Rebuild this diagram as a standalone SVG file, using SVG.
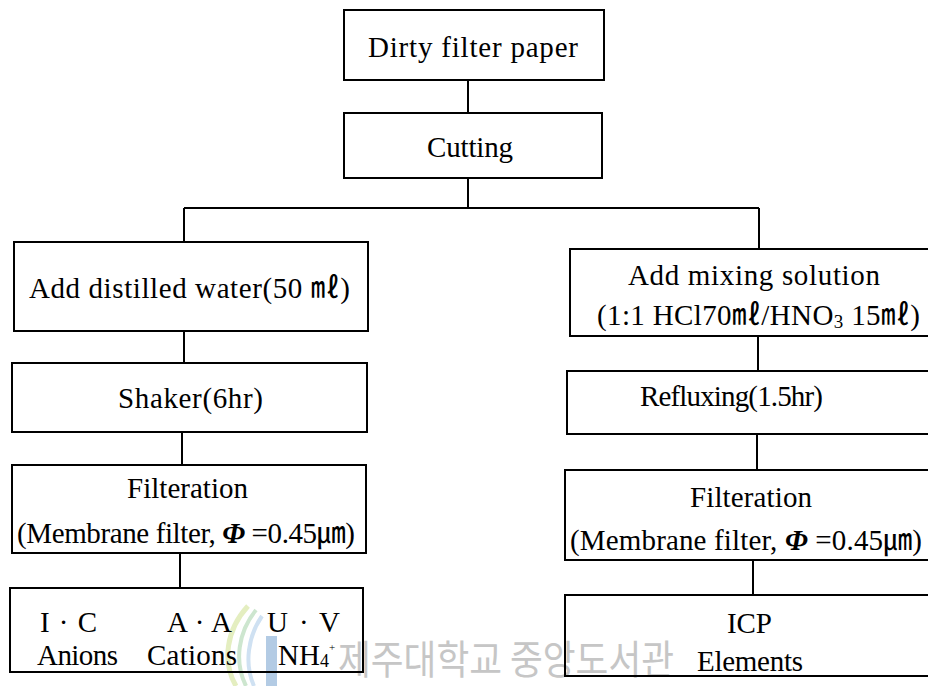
<svg xmlns="http://www.w3.org/2000/svg" width="928" height="686" viewBox="0 0 928 686">
<style>
  .box { fill: none; stroke: #000000; stroke-width: 2; }
  .ln { fill: none; stroke: #000000; stroke-width: 2; }
  .t { font-family: "Liberation Serif", "Noto Sans CJK KR", serif; font-size: 29px; fill: #000000; }
  .wm { font-family: "Noto Sans CJK KR", sans-serif; font-size: 40px; fill: #c6c6c6; }
</style>
<rect x="0" y="0" width="928" height="686" fill="#ffffff"/>

<g id="watermark">
  <path d="M236,686 C222,662 226,630 248,606" fill="none" stroke="#e4eec0" stroke-width="5"/>
  <path d="M246,686 C234,662 238,632 256,610" fill="none" stroke="#cde6cf" stroke-width="4"/>
  <path d="M254,686 C244,664 248,636 262,616" fill="none" stroke="#cfe1f2" stroke-width="4"/>
  <rect x="266" y="636" width="11" height="50" fill="#b3cbe4"/>
  <text class="wm" x="338" y="674" textLength="336" lengthAdjust="spacingAndGlyphs">제주대학교 중앙도서관</text>
</g>

<g id="connectors">
  <line class="ln" x1="468" y1="80" x2="468" y2="113"/>
  <line class="ln" x1="468" y1="178" x2="468" y2="208"/>
  <line class="ln" x1="184" y1="208" x2="759" y2="208"/>
  <line class="ln" x1="184" y1="208" x2="184" y2="242"/>
  <line class="ln" x1="759" y1="208" x2="759" y2="249"/>
  <line class="ln" x1="184" y1="331" x2="184" y2="363"/>
  <line class="ln" x1="182" y1="432" x2="182" y2="465"/>
  <line class="ln" x1="180" y1="553" x2="180" y2="588"/>
  <line class="ln" x1="758" y1="336" x2="758" y2="371"/>
  <line class="ln" x1="757" y1="434" x2="757" y2="470"/>
  <line class="ln" x1="753" y1="560" x2="753" y2="595"/>
</g>

<g id="dirty">
  <rect class="box" x="344" y="10" width="260" height="70"/>
  <text class="t" x="368" y="57" textLength="210" lengthAdjust="spacing">Dirty filter paper</text>
</g>
<g id="cutting">
  <rect class="box" x="344" y="113" width="258" height="65"/>
  <text class="t" x="427" y="157" textLength="86" lengthAdjust="spacing">Cutting</text>
</g>

<g id="water">
  <rect class="box" x="14" y="242" width="354" height="89"/>
  <text class="t" x="29" y="298" textLength="321" lengthAdjust="spacing">Add distilled water(50 ㎖)</text>
</g>
<g id="shaker">
  <rect class="box" x="12" y="363" width="355" height="69"/>
  <text class="t" x="118" y="408" textLength="145" lengthAdjust="spacing">Shaker(6hr)</text>
</g>
<g id="filtL">
  <rect class="box" x="12" y="465" width="354" height="88"/>
  <text class="t" x="127" y="498" textLength="121" lengthAdjust="spacing">Filteration</text>
  <text class="t" x="17" y="543" textLength="338" lengthAdjust="spacing">(Membrane filter, <tspan font-style="italic" font-weight="bold">Φ</tspan> =0.45㎛)</text>
</g>
<g id="analysisL">
  <rect class="box" x="10" y="588" width="353" height="84"/>
  <text class="t" x="40" y="632" textLength="57" lengthAdjust="spacing">I · C</text>
  <text class="t" x="167" y="632" textLength="65" lengthAdjust="spacing">A · A</text>
  <text class="t" x="267" y="632" textLength="73" lengthAdjust="spacing">U · V</text>
  <text class="t" x="37" y="665" textLength="81" lengthAdjust="spacing">Anions</text>
  <text class="t" x="147" y="665" textLength="90" lengthAdjust="spacing">Cations</text>
  <text class="t" x="278" y="665">NH<tspan font-size="18" dy="2">4</tspan><tspan font-size="11" dy="-16">+</tspan></text>
</g>

<g id="mixing">
  <rect class="box" x="570" y="249" width="365" height="87"/>
  <text class="t" x="628" y="285" textLength="252" lengthAdjust="spacing">Add mixing solution</text>
  <text class="t" x="597" y="325" textLength="323" lengthAdjust="spacing">(1:1 HCl70㎖/HNO<tspan font-size="19" dy="3">3</tspan><tspan dy="-3"> 15㎖)</tspan></text>
</g>
<g id="reflux">
  <rect class="box" x="567" y="371" width="368" height="63"/>
  <text class="t" x="640" y="406" textLength="183" lengthAdjust="spacing">Refluxing(1.5hr)</text>
</g>
<g id="filtR">
  <rect class="box" x="565" y="470" width="370" height="90"/>
  <text class="t" x="690" y="507" textLength="122" lengthAdjust="spacing">Filteration</text>
  <text class="t" x="570" y="550" textLength="352" lengthAdjust="spacing">(Membrane filter, <tspan font-style="italic" font-weight="bold">Φ</tspan> =0.45㎛)</text>
</g>
<g id="icp">
  <rect class="box" x="565" y="595" width="370" height="81"/>
  <text class="t" x="727" y="633" textLength="45" lengthAdjust="spacing">ICP</text>
  <text class="t" x="697" y="671" textLength="106" lengthAdjust="spacing">Elements</text>
</g>
</svg>
